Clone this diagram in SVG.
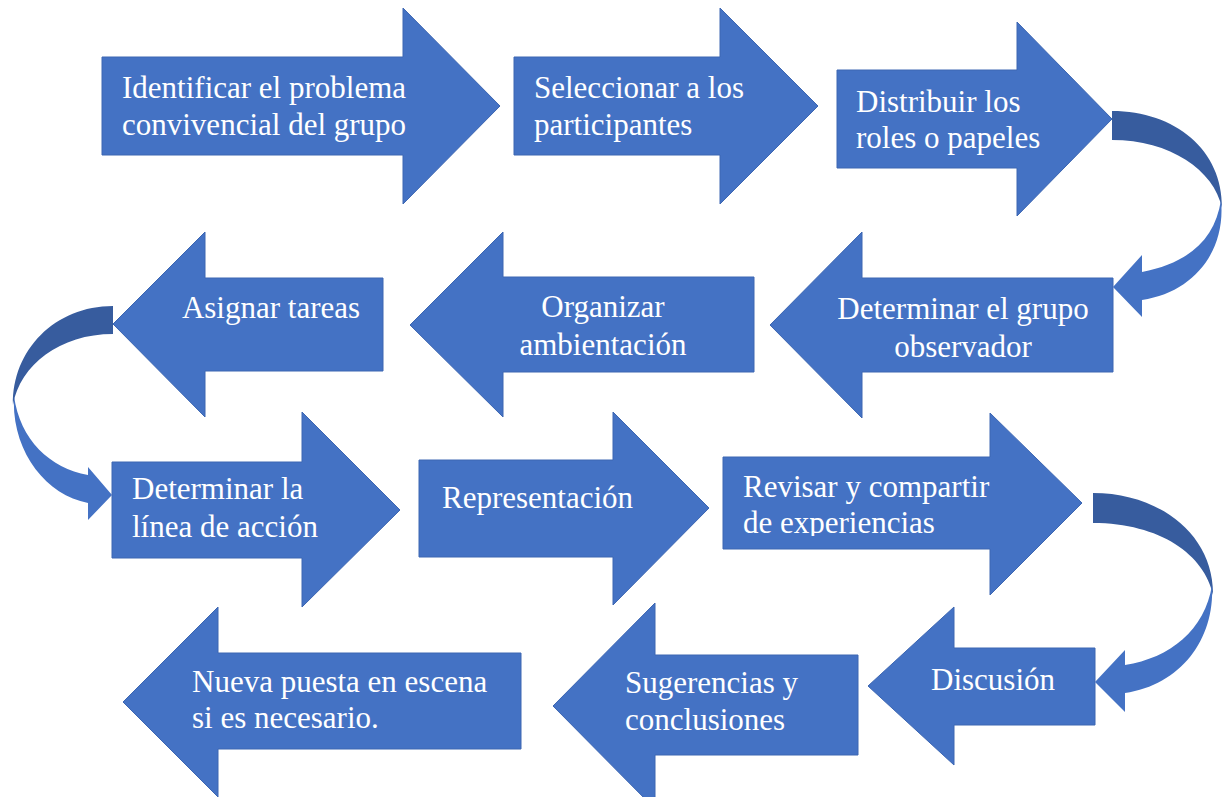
<svg xmlns="http://www.w3.org/2000/svg" width="1223" height="797" viewBox="0 0 1223 797">
<defs>
<style>
.arr{fill:#4472C4;stroke:#3C66B2;stroke-width:1}
.dk{fill:#375C9E}
.lt{fill:#4472C4}
text{font-family:"Liberation Serif","Times New Roman",serif;font-size:31px;fill:#FFFFFF}
.c{text-anchor:middle}
</style>
<clipPath id="clip9"><rect x="723" y="457" width="267" height="79"/></clipPath>
</defs>
<rect width="1223" height="797" fill="#FFFFFF"/>
<g id="connectors">
<path class="dk" d="M1112,111 C1175,111 1223,150 1222,208 C1214,170 1170,140 1112,140 Z"/>
<path class="lt" d="M1221,200 C1226,250 1195,292 1142,300 L1142,317 L1113,287 L1142,255 L1142,272 C1188,263 1215,240 1221,200 Z"/>
<path class="dk" d="M113,306 C55,306 12,350 13,405 C20,365 60,334 113,334 Z"/>
<path class="lt" d="M14,396 C11,450 45,495 88,503 L88,520 L112,495 L88,467 L88,475 C50,468 20,440 14,396 Z"/>
<path class="dk" d="M1093,493 C1160,493 1214,535 1213,595 C1205,555 1160,523 1093,523 Z"/>
<path class="lt" d="M1212,585 C1215,640 1180,685 1125,693 L1125,712 L1095,682 L1125,650 L1125,665 C1170,658 1205,630 1212,585 Z"/>
</g>
<g id="n1">
<path class="arr" d="M102,57 H403 V8 L500,106 L403,204 V155 H102 Z"/>
<text x="122" y="98">Identificar el problema</text>
<text x="122" y="135">convivencial del grupo</text>
</g>
<g id="n2">
<path class="arr" d="M514,57 H720 V8 L818,106 L720,204 V155 H514 Z"/>
<text x="534" y="98">Seleccionar a los</text>
<text x="534" y="135">participantes</text>
</g>
<g id="n3">
<path class="arr" d="M837,70 H1017 V22 L1112,119 L1017,216 V168 H837 Z"/>
<text x="856" y="112">Distribuir los</text>
<text x="856" y="148">roles o papeles</text>
</g>
<g id="n4">
<path class="arr" d="M1113,278 H862 V232 L770,325 L862,418 V372 H1113 Z"/>
<text class="c" x="963" y="319">Determinar el grupo</text>
<text class="c" x="963" y="357">observador</text>
</g>
<g id="n5">
<path class="arr" d="M754,277 H503 V232 L410,325 L503,417 V372 H754 Z"/>
<text class="c" x="603" y="317">Organizar</text>
<text class="c" x="603" y="355">ambientación</text>
</g>
<g id="n6">
<path class="arr" d="M383,278 H205 V232 L113,324 L205,417 V371 H383 Z"/>
<text class="c" x="271" y="318">Asignar tareas</text>
</g>
<g id="n7">
<path class="arr" d="M112,462 H302 V412 L400,510 L302,607 V558 H112 Z"/>
<text x="132" y="499">Determinar la</text>
<text x="132" y="537">línea de acción</text>
</g>
<g id="n8">
<path class="arr" d="M419,460 H613 V412 L709,508 L613,605 V557 H419 Z"/>
<text x="442" y="508">Representación</text>
</g>
<g id="n9">
<path class="arr" d="M723,457 H990 V413 L1082,503 L990,595 V549 H723 Z"/>
<text x="743" y="497">Revisar y compartir</text>
<text x="743" y="533" clip-path="url(#clip9)">de experiencias</text>
</g>
<g id="n10">
<path class="arr" d="M1095,648 H954 V607 L868,686 L954,765 V725 H1095 Z"/>
<text class="c" x="993" y="690">Discusión</text>
</g>
<g id="n11">
<path class="arr" d="M858,655 H655 V603 L553,706 L655,809 V755 H858 Z"/>
<text x="625" y="693">Sugerencias y</text>
<text x="625" y="730">conclusiones</text>
</g>
<g id="n12">
<path class="arr" d="M521,653 H218 V607 L123,702 L218,797 V749 H521 Z"/>
<text x="192" y="692">Nueva puesta en escena</text>
<text x="192" y="728">si es necesario.</text>
</g>
</svg>
